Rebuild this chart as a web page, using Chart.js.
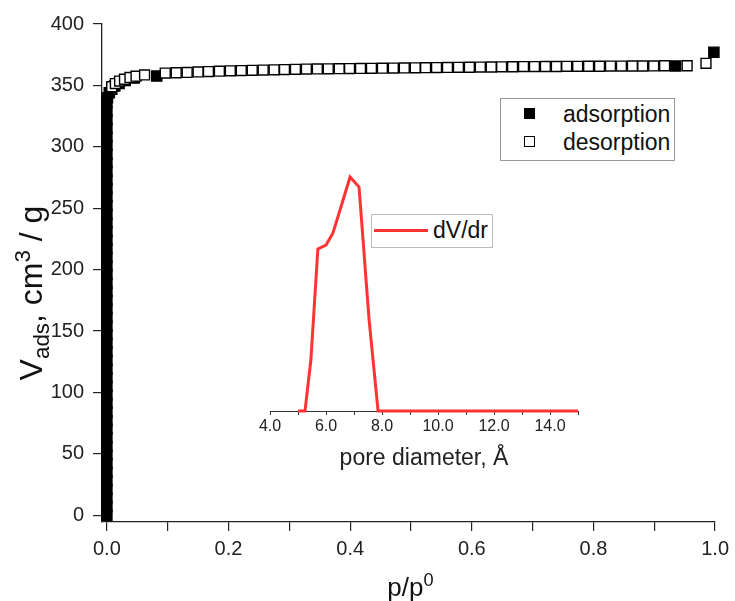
<!DOCTYPE html>
<html>
<head>
<meta charset="utf-8">
<script src="https://cdn.jsdelivr.net/npm/chart.js@4.4.1/dist/chart.umd.min.js"></script>
<style>
  body { margin: 0; background: #fff; }
  #wrap { position: relative; width: 735px; height: 601px; font-family: "Liberation Sans", Arial, sans-serif; color: #111; }
  #main { position: absolute; left: 0; top: 0; }
  #inset { position: absolute; left: 225px; top: 150px; }
  .ytitle { position: absolute; left: -119px; top: 273px; width: 300px; height: 40px; line-height: 40px; font-size: 32px; text-align: center; transform: rotate(-90deg); white-space: nowrap; }
  .xtitle { position: absolute; left: 102px; top: 572px; width: 617px; line-height: 30px; font-size: 26px; text-align: center; }
  sub, sup { font-size: 0.7em; line-height: 0; }
  .legend { position: absolute; border: 1px solid #999; background: #fff; font-size: 23px; }
  .row { position: absolute; left: 0; height: 28px; line-height: 28px; white-space: nowrap; }
  .sq { position: absolute; left: 23px; top: 8px; width: 9px; height: 9px; border: 1.5px solid #000; }
</style>
</head>
<body>
<div id="wrap">
  <canvas id="main" width="735" height="601"></canvas>
  <canvas id="inset" width="410" height="330"></canvas>
  <div class="ytitle">V<sub>ads</sub>, cm<sup>3</sup> / g</div>
  <div class="xtitle">p/p<sup>0</sup></div>
  <div class="legend" style="left:500px;top:98px;width:173px;height:61px;">
    <div class="row" style="top:1px;width:173px;"><span class="sq" style="background:#000"></span><span style="position:absolute;left:62px;">adsorption</span></div>
    <div class="row" style="top:29px;width:173px;"><span class="sq" style="background:#fff"></span><span style="position:absolute;left:62px;">desorption</span></div>
  </div>
  <div class="legend" style="left:371px;top:214px;width:120px;height:32px;border-color:#bbb;">
    <span style="position:absolute;left:2px;top:14px;width:54px;height:3px;background:#ff3333;"></span>
    <span style="position:absolute;left:61px;top:0;line-height:30px;">dV/dr</span>
  </div>
</div>
<script>
// isotherm, adsorption branch (the steep micropore uptake sits at p/p0 ~ 0)
const adsX = [0, 0, 0, 0, 0, 0, 0, 0, 0, 0,
  0, 0, 0, 0, 0, 0, 0, 0, 0, 0,
  0, 0, 0, 0, 0, 0, 0, 0, 0, 0,
  0, 0, 0, 0, 0, 0, 0, 0, 0, 0,
  0, 0, 0, 0, 0, 0, 0, 0, 0,
  0.001, 0.004, 0.008, 0.013, 0.020, 0.030, 0.045, 0.082, 0.935, 0.998];
const adsY = [0, 7, 14, 21, 28, 35, 42, 49, 56, 63,
  70, 77, 84, 91, 98, 105, 112, 119, 126, 133,
  140, 147, 154, 161, 168, 175, 182, 189, 196, 203,
  210, 217, 224, 231, 238, 245, 252, 259, 266, 273,
  280, 287, 294, 301, 308, 315, 322, 329, 336,
  340, 344, 347, 349.5, 351.5, 354, 356, 357.6, 365.8, 377];

// desorption branch
const desX = [0.008, 0.014, 0.021, 0.029, 0.038, 0.048, 0.062,
  0.096, 0.114, 0.132, 0.150, 0.167, 0.185, 0.203, 0.221, 0.239, 0.257,
  0.275, 0.292, 0.310, 0.328, 0.346, 0.364, 0.382, 0.399, 0.417, 0.435,
  0.453, 0.471, 0.489, 0.507, 0.524, 0.542, 0.560, 0.578, 0.596, 0.614,
  0.632, 0.649, 0.667, 0.685, 0.703, 0.721, 0.739, 0.756, 0.774, 0.792,
  0.810, 0.828, 0.846, 0.864, 0.881, 0.899, 0.917, 0.954, 0.985];
const desY = [349, 351.5, 353.5, 355, 356.5, 357.5, 358.5,
  360, 360.3, 360.6, 361, 361.3, 361.6, 361.9, 362.1, 362.3, 362.5,
  362.7, 362.9, 363.1, 363.3, 363.4, 363.5, 363.6, 363.7, 363.8, 363.9,
  364, 364.1, 364.2, 364.3, 364.4, 364.5, 364.6, 364.7, 364.8, 364.9,
  365, 365.1, 365.2, 365.3, 365.3, 365.4, 365.4, 365.5, 365.5, 365.6,
  365.6, 365.7, 365.7, 365.8, 365.8, 365.9, 366, 366, 368];

// pore size distribution (inset)
const poreD = [5.0, 5.25, 5.46, 5.71, 6.0, 6.25, 6.86, 7.18, 7.54, 7.86, 9.0, 11.0, 13.0, 15.0];
const dVdr = [0, 0, 0.051, 0.162, 0.166, 0.178, 0.234, 0.224, 0.091, 0, 0, 0, 0, 0];

const xTicks = [0, 0.1, 0.2, 0.3, 0.4, 0.5, 0.6, 0.7, 0.8, 0.9, 1.0];
const xLabels = [0, 0.2, 0.4, 0.6, 0.8, 1.0];
const yTicks = [0, 50, 100, 150, 200, 250, 300, 350, 400];
const poreTicks = [4, 5, 6, 7, 8, 9, 10, 11, 12, 13, 14, 15];
const poreLabels = [4, 6, 8, 10, 12, 14];

const FONT = '"Liberation Sans", Arial, sans-serif';
const INK = '#222';

const pts = (xs, ys) => xs.map((x, i) => ({ x: x, y: ys[i] }));

new Chart(document.getElementById('main'), {
  type: 'scatter',
  data: {
    datasets: [
      {
        label: 'desorption',
        data: pts(desX, desY),
        pointStyle: 'rect',
        pointRadius: 7,
        pointBorderWidth: 1.4,
        pointBorderColor: '#000',
        pointBackgroundColor: '#fff',
        clip: false,
      },
      {
        label: 'adsorption',
        data: pts(adsX, adsY),
        pointStyle: 'rect',
        pointRadius: 7.2,
        pointBorderWidth: 1.4,
        pointBorderColor: '#000',
        pointBackgroundColor: '#000',
        clip: false,
      }
    ]
  },
  options: {
    responsive: false,
    animation: false,
    layout: { padding: { left: 0, right: 16, top: 24, bottom: 0 } },
    plugins: { legend: { display: false }, tooltip: { enabled: false } },
    scales: {
      x: {
        type: 'linear', min: -0.008, max: 1.0,
        afterBuildTicks: s => { s.ticks = xTicks.map(v => ({ value: v })); },
        afterFit: s => { s.height = 79; },
        grid: { drawOnChartArea: false, drawTicks: true, tickLength: 9, color: INK, lineWidth: 1.2 },
        border: { display: true, color: INK, width: 1.3 },
        ticks: {
          padding: 6, color: INK, font: { family: FONT, size: 20 }, maxRotation: 0, autoSkip: false,
          callback: v => xLabels.includes(v) ? v.toFixed(1) : ''
        }
      },
      y: {
        type: 'linear', min: -5.5, max: 400,
        afterBuildTicks: s => { s.ticks = yTicks.map(v => ({ value: v })); },
        afterFit: s => { s.width = 102; },
        grid: { drawOnChartArea: false, drawTicks: true, tickLength: 9, color: INK, lineWidth: 1.2 },
        border: { display: true, color: INK, width: 1.3 },
        ticks: { padding: 9, color: INK, font: { family: FONT, size: 20 }, autoSkip: false }
      }
    }
  }
});

new Chart(document.getElementById('inset'), {
  type: 'line',
  data: {
    labels: poreD,
    datasets: [{
      label: 'dV/dr',
      data: pts(poreD, dVdr),
      borderColor: '#ff3333',
      borderWidth: 3,
      pointRadius: 0,
      tension: 0,
      fill: false,
      clip: false,
    }]
  },
  options: {
    responsive: false,
    animation: false,
    layout: { padding: { left: 45, right: 57, top: 1, bottom: 0 } },
    plugins: { legend: { display: false }, tooltip: { enabled: false } },
    scales: {
      x: {
        type: 'linear', min: 4, max: 15,
        afterBuildTicks: s => { s.ticks = poreTicks.map(v => ({ value: v })); },
        afterFit: s => { s.height = 69; },
        grid: { drawOnChartArea: false, drawTicks: true, tickLength: 4, color: '#333', lineWidth: 1 },
        border: { display: true, color: '#333', width: 1 },
        ticks: {
          padding: 2, color: INK, font: { family: FONT, size: 16 }, maxRotation: 0, autoSkip: false,
          callback: v => poreLabels.includes(v) ? v.toFixed(1) : ''
        },
        title: { display: true, text: 'pore diameter, Å', color: INK, font: { family: FONT, size: 23 }, padding: { top: 8, bottom: 8 } }
      },
      y: { type: 'linear', display: false, min: 0, max: 0.26 }
    }
  }
});
</script>
</body>
</html>
